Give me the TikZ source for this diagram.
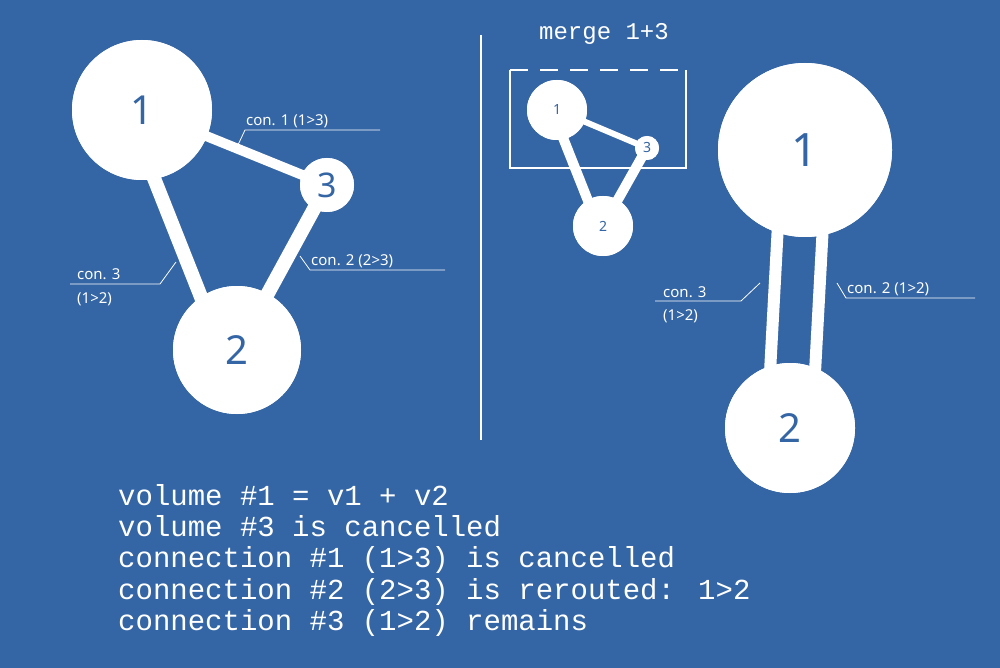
\documentclass[tikz,border=0pt]{standalone}
\usepackage{fontspec}
\setmainfont{Liberation Mono}
\setsansfont{Noto Sans}
\definecolor{bp}{HTML}{3465A4}
\begin{document}
\begin{tikzpicture}[x=1pt,y=-1pt,
  ball/.style={circle,fill=white,text=bp,font=\sffamily\bfseries,inner sep=0pt},
  bar/.style={white,line cap=butt},
  lead/.style={white,line width=0.8pt},
  lab/.style={text=white,font=\sffamily\fontsize{15}{16}\selectfont,inner sep=1pt,anchor=base west},
  big/.style={text=white,font=\fontsize{29}{30}\selectfont,anchor=base west,inner sep=0pt}]
\fill[bp] (0,0) rectangle (1000,668);
\useasboundingbox (0,0) rectangle (1000,668);
% left
\node[ball,minimum size=140,font=\sffamily\bfseries\fontsize{40}{40}\selectfont] (a1) at (142,110) {1};
\node[ball,minimum size=54,font=\sffamily\bfseries\fontsize{34}{34}\selectfont] (a3) at (327,185) {3};
\node[ball,minimum size=128,font=\sffamily\bfseries\fontsize{40}{40}\selectfont] (a2) at (237,350) {2};
\draw[bar,line width=10] (a1.center) -- (a3.center);
\draw[bar,line width=14] ([xshift=-15]a1.center) -- ([xshift=-15]a2.center);
\draw[bar,line width=14] (a3.center) -- (a2.center);
\node[ball,minimum size=140,font=\sffamily\bfseries\fontsize{40}{40}\selectfont] at (a1) {1};
\node[ball,minimum size=54,font=\sffamily\bfseries\fontsize{34}{34}\selectfont] at (a3) {3};
\node[ball,minimum size=128,font=\sffamily\bfseries\fontsize{40}{40}\selectfont] at (a2) {2};
\node[lab] (l1) at (245,126) {con. 1 (1>3)};
\coordinate (l1a) at (380,130); \coordinate (l1b) at (245,130); \coordinate (l1c) at (237,147);
\draw[lead] (l1a) -- (l1b) -- (l1c);
\node[lab] (l3) at (76,279) {con. 3};
\node[lab] (l3b) at (76,303) {(1>2)};
\coordinate (l3a) at (70,284); \coordinate (l3m) at (160,284); \coordinate (l3c) at (176,262);
\draw[lead] (l3a) -- (l3m) -- (l3c);
\node[lab] (l2) at (310,265) {con. 2 (2>3)};
\coordinate (l2a) at (445,270); \coordinate (l2m) at (310,270); \coordinate (l2c) at (300,256);
\draw[lead] (l2a) -- (l2m) -- (l2c);
% divider
\coordinate (d1) at (481,35); \coordinate (d2) at (481,440);
\draw[white,line width=1.2] (d1) -- (d2);
% merge
\node[text=white,font=\fontsize{24}{24}\selectfont,anchor=base] (mt) at (604,40) {merge 1+3};
\draw[white,line width=2.5] (510,70) -- (510,168) -- (686,168) -- (686,70);
\draw[white,line width=2.5,dash pattern=on 18 off 12] (510,70) -- (686,70);
\node[ball,minimum size=60,font=\sffamily\bfseries\fontsize{14}{14}\selectfont] (b1) at (557,110) {1};
\node[ball,minimum size=24,font=\sffamily\bfseries\fontsize{14}{14}\selectfont] (b3) at (647,148) {3};
\node[ball,minimum size=60,font=\sffamily\bfseries\fontsize{14}{14}\selectfont] (b2) at (603,226) {2};
\draw[bar,line width=6] (b1.center) -- (b3.center);
\draw[bar,line width=10] ([xshift=-5]b1.center) -- ([xshift=-5]b2.center);
\draw[bar,line width=10] (b3.center) -- (b2.center);
\node[ball,minimum size=60,font=\sffamily\bfseries\fontsize{14}{14}\selectfont] at (b1) {1};
\node[ball,minimum size=24,font=\sffamily\bfseries\fontsize{14}{14}\selectfont] at (b3) {3};
\node[ball,minimum size=60,font=\sffamily\bfseries\fontsize{14}{14}\selectfont] at (b2) {2};
% right
\node[ball,minimum size=174,font=\sffamily\bfseries\fontsize{46}{46}\selectfont] (c1) at (805,150) {1};
\node[ball,minimum size=130,font=\sffamily\bfseries\fontsize{40}{40}\selectfont] (c2) at (790,428) {2};
\draw[bar,line width=12] ([xshift=-23]c1.center) -- ([xshift=-23]c2.center);
\draw[bar,line width=12] ([xshift=22]c1.center) -- ([xshift=22]c2.center);
\node[ball,minimum size=174,font=\sffamily\bfseries\fontsize{46}{46}\selectfont] at (c1) {1};
\node[ball,minimum size=130,font=\sffamily\bfseries\fontsize{40}{40}\selectfont] at (c2) {2};
\node[lab] (r3) at (662,297) {con. 3};
\node[lab] (r3b) at (662,320) {(1>2)};
\coordinate (r3a) at (655,301); \coordinate (r3m) at (741,301); \coordinate (r3c) at (760,283);
\draw[lead] (r3a) -- (r3m) -- (r3c);
\node[lab] (r2) at (846,293) {con. 2 (1>2)};
\coordinate (r2a) at (975,298); \coordinate (r2m) at (846,298); \coordinate (r2c) at (837,283);
\draw[lead] (r2a) -- (r2m) -- (r2c);
% text
\node[big] (t1) at (118,505) {volume \#1 = v1 + v2};
\node[big] (t2) at (118,536) {volume \#3 is cancelled};
\node[big] (t3) at (118,567) {connection \#1 (1>3) is cancelled};
\node[big] (t4) at (118,599) {connection \#2 (2>3) is rerouted: 1>2};
\node[big] (t5) at (118,630) {connection \#3 (1>2) remains};
\end{tikzpicture}
\end{document}
